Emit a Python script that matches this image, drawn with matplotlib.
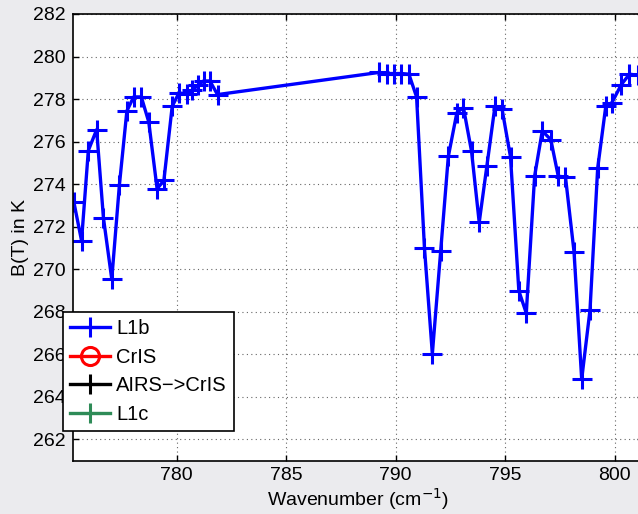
import numpy as np
import matplotlib
matplotlib.use('Agg')
import matplotlib.pyplot as plt

plt.rcParams['font.family'] = ['Liberation Sans', 'DejaVu Sans']

# L1b brightness temperatures
wn_l1b = [775.31, 775.66, 775.97, 776.35, 776.66, 777.04, 777.39, 777.73, 778.04, 778.39,
          778.73, 779.11, 779.42, 779.80, 780.11, 780.46, 780.72, 780.98, 781.23, 781.52,
          781.87,
          789.23, 789.61, 789.95, 790.27, 790.61, 790.96, 791.32, 791.68, 792.06, 792.41,
          792.80, 793.10, 793.47, 793.82, 794.17, 794.54, 794.86, 795.25, 795.63, 795.97,
          796.35, 796.70, 797.09, 797.43, 797.76, 798.15, 798.50, 798.88, 799.23, 799.60,
          799.88, 800.31, 800.68, 801.06]
bt_l1b = [273.15, 271.34, 275.58, 276.56, 272.41, 269.53, 273.97, 277.44, 278.10, 278.10,
          276.92, 273.78, 274.17, 277.66, 278.29, 278.23, 278.42, 278.65, 278.85, 278.85,
          278.21,
          279.25, 279.20, 279.20, 279.20, 279.17, 278.10, 271.00, 266.02, 270.84, 275.30,
          277.36, 277.60, 275.54, 272.20, 274.85, 277.67, 277.55, 275.27, 268.98, 267.93,
          274.37, 276.50, 276.09, 274.37, 274.33, 270.82, 264.82, 268.08, 274.75, 277.66,
          277.83, 278.68, 279.17, 279.12]

# other series have no visible points in this window
wn_cris, bt_cris = [], []
wn_a2c, bt_a2c = [], []
wn_l1c, bt_l1c = [], []

x_ticks = [780, 785, 790, 795, 800]
y_ticks = list(range(262, 284, 2))

fig = plt.figure(figsize=(6.38, 5.14), dpi=100, facecolor='#ebebee')
ax = fig.add_axes([73 / 638, 53.5 / 514, 570 / 638, 446.5 / 514])

ax.plot(wn_l1b, bt_l1b, '+-', color='#0000ff', lw=2.4, ms=14, mew=2.2, label='L1b')
ax.plot(wn_cris, bt_cris, 'o-', color='#ff0000', mfc='none', lw=2.4, ms=13, mew=2.2, label='CrIS')
ax.plot(wn_a2c, bt_a2c, '+-', color='black', lw=2.4, ms=14, mew=2.2, label='AIRS\u2212>CrIS')
ax.plot(wn_l1c, bt_l1c, '+-', color='#2e8b57', lw=2.4, ms=14, mew=2.2, label='L1c')

ax.set_xlim(775.27, 801.3)
ax.set_ylim(261, 282)
ax.set_xticks(x_ticks)
ax.set_yticks(y_ticks)
ax.grid(True, linestyle=(0, (1, 3)), color='#666666', lw=0.8)
ax.tick_params(direction='in', length=4, width=1, labelsize=14, top=True, right=True, pad=5)
for s in ax.spines.values():
    s.set_linewidth(1.2)
ax.spines['right'].set_visible(False)

ax.set_xlabel('Wavenumber (cm$^{-1}$)', fontsize=14, labelpad=1)
ax.set_ylabel('B(T) in K', fontsize=14, labelpad=3)

leg = ax.legend(loc='upper left', bbox_to_anchor=(63 / 638, 1 - 312 / 514),
                bbox_transform=fig.transFigure, fontsize=14.5, fancybox=False,
                framealpha=1, edgecolor='black', borderaxespad=0, borderpad=0.35,
                labelspacing=0.48, handlelength=2.0, handletextpad=0.3)
leg.get_frame().set_linewidth(1.2)

fig.savefig('out.png', dpi=100, facecolor=fig.get_facecolor())
